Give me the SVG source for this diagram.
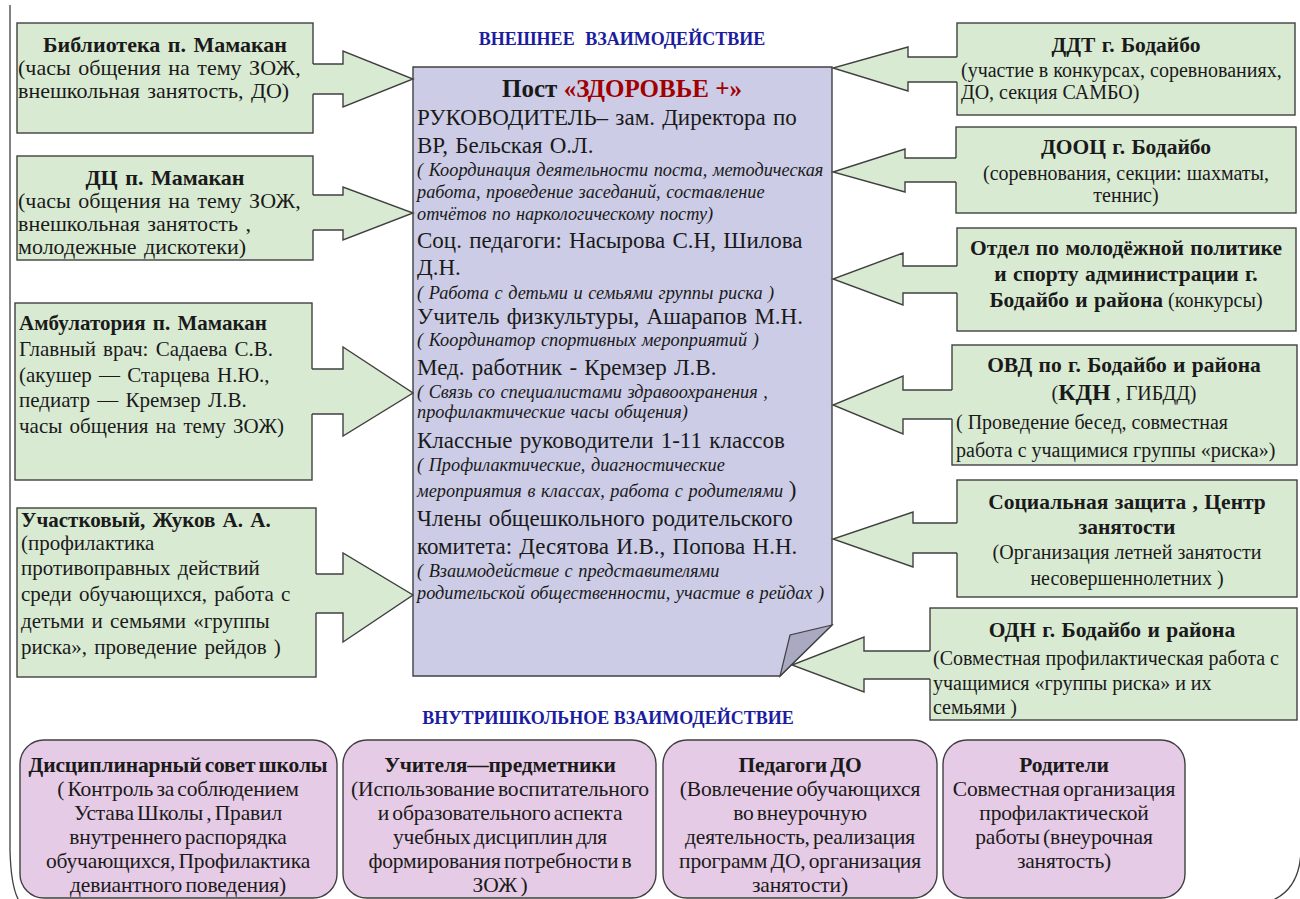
<svg xmlns="http://www.w3.org/2000/svg" width="1300" height="899" viewBox="0 0 1300 899" font-family="'Liberation Serif','Times New Roman',serif">
<style>
.g{fill:#d9ead3;stroke:#404040;stroke-width:1.4}
.p{fill:#e6cbe6;stroke:#404040;stroke-width:1.4}
.af{fill:#d9ead3;stroke:none}
.al{fill:none;stroke:#404040;stroke-width:1.4;stroke-linejoin:miter}
text{font-family:"Liberation Serif","Times New Roman",serif;fill:#1a1a1a}
.l{font-size:21px;word-spacing:2px}
.lb{font-size:22px;word-spacing:2px}
.r{font-size:20px}
.rt{font-size:21.5px;font-weight:bold;word-spacing:1px}
.b{font-weight:bold}
.c{text-anchor:middle}
.m{font-size:23px;word-spacing:1.5px}
.i{font-size:18.3px;font-style:italic;word-spacing:1px}
.bt{font-size:21.5px;letter-spacing:-0.15px;word-spacing:-2px}
.h{font-size:18px;font-weight:bold;fill:#1c1ca0}
</style>
<rect width="1300" height="899" fill="#ffffff"/>
<g id="frame" fill="none" stroke="#404040" stroke-width="1.3">
<path d="M10,5 V850 Q11,893 22,905"/>
<path d="M1301,850 Q1300,893 1265,903"/>
</g>
<text class="h c" x="622" y="45" style="word-spacing:6px">ВНЕШНЕЕ  ВЗАИМОДЕЙСТВИЕ</text>
<text class="h c" x="608" y="724">ВНУТРИШКОЛЬНОЕ ВЗАИМОДЕЙСТВИЕ</text>

<g id="post">
<polygon points="413,67 832,67 832,625 780,676 413,676" fill="#ccccE6" stroke="#404040" stroke-width="1.4"/>
<polygon points="832,625 790,635 780,676" fill="#a9a9c1" stroke="#404040" stroke-width="1.2"/>
<text x="622" y="97" class="c b" style="font-size:25px">Пост <tspan fill="#a00000">«ЗДОРОВЬЕ +»</tspan></text>
<text x="417" y="125" class="m">РУКОВОДИТЕЛЬ–  зам. Директора по</text>
<text x="417" y="153" class="m">ВР, Бельская О.Л.</text>
<text x="417" y="176" class="i">( Координация деятельности  поста, методическая</text>
<text x="417" y="198" class="i">работа, проведение заседаний, составление</text>
<text x="417" y="220" class="i">отчётов по наркологическому посту)</text>
<text x="417" y="248" class="m">Соц. педагоги: Насырова С.Н, Шилова</text>
<text x="417" y="275" class="m">Д.Н.</text>
<text x="417" y="299" class="i">( Работа с детьми и семьями  группы риска )</text>
<text x="417" y="324" class="m">Учитель физкультуры,  Ашарапов М.Н.</text>
<text x="417" y="346" class="i">( Координатор спортивных мероприятий )</text>
<text x="417" y="375" class="m">Мед. работник -  Кремзер Л.В.</text>
<text x="417" y="398" class="i">( Связь со специалистами здравоохранения ,</text>
<text x="417" y="418" class="i">профилактические часы общения)</text>
<text x="417" y="448" class="m">Классные  руководители 1-11  классов</text>
<text x="417" y="471" class="i">( Профилактические, диагностические</text>
<text x="417" y="497" class="i">мероприятия в классах, работа с родителями <tspan style="font-style:normal;font-size:23px">)</tspan></text>
<text x="417" y="526" class="m">Члены  общешкольного родительского</text>
<text x="417" y="554" class="m">комитета: Десятова И.В., Попова Н.Н.</text>
<text x="417" y="577" class="i">( Взаимодействие с представителями</text>
<text x="417" y="599" class="i">родительской общественности, участие в рейдах )</text>
</g>

<g id="library">
<rect class="g" x="17" y="23" width="296" height="110"/>
<text class="lb b c" x="165" y="52">Библиотека  п. Мамакан</text>
<text class="lb" x="18" y="75">(часы общения на тему ЗОЖ,</text>
<text class="lb" x="18" y="98">внешкольная занятость, ДО)</text>
</g>
<g id="dc">
<rect class="g" x="17" y="156" width="296" height="104"/>
<text class="lb b c" x="165" y="185">ДЦ п. Мамакан</text>
<text class="lb" x="18" y="208">(часы общения на тему ЗОЖ,</text>
<text class="lb" x="18" y="231">внешкольная занятость ,</text>
<text class="lb" x="18" y="254">молодежные дискотеки)</text>
</g>
<g id="ambulatory">
<rect class="g" x="15" y="303" width="297" height="177"/>
<text class="l b" x="19" y="330">Амбулатория   п. Мамакан</text>
<text class="l" x="19" y="356">Главный  врач: Садаева С.В.</text>
<text class="l" x="19" y="382">(акушер  — Старцева Н.Ю.,</text>
<text class="l" x="19" y="407">педиатр — Кремзер  Л.В.</text>
<text class="l" x="19" y="433">часы общения на тему  ЗОЖ)</text>
</g>
<g id="police">
<rect class="g" x="17" y="508" width="299" height="169"/>
<text class="l b" x="21" y="527">Участковый, Жуков  А. А.</text>
<text class="l" x="21" y="550">(профилактика</text>
<text class="l" x="21" y="575">противоправных  действий</text>
<text class="l" x="21" y="601">среди обучающихся,  работа с</text>
<text class="l" x="21" y="628">детьми и семьями  «группы</text>
<text class="l" x="21" y="654">риска», проведение рейдов )</text>
</g>

<g id="ddt">
<rect class="g" x="957" y="23" width="338" height="92"/>
<text class="rt c" x="1126" y="52">ДДТ  г. Бодайбо</text>
<text class="r" x="961" y="77">(участие в конкурсах, соревнованиях,</text>
<text class="r" x="961" y="99">ДО, секция САМБО)</text>
</g>
<g id="dooc">
<rect class="g" x="956" y="127" width="340" height="86"/>
<text class="rt c" x="1126" y="154">ДООЦ  г. Бодайбо</text>
<text class="r c" x="1126" y="180">(соревнования, секции: шахматы,</text>
<text class="r c" x="1126" y="202">теннис)</text>
</g>
<g id="youth">
<rect class="g" x="957" y="228" width="339" height="103"/>
<text class="rt c" x="1126" y="255">Отдел  по молодёжной политике</text>
<text class="rt c" x="1126" y="281">и  спорту  администрации  г.</text>
<text class="r c" x="1126" y="307"><tspan class="rt">Бодайбо и района</tspan> (конкурсы)</text>
</g>
<g id="ovd">
<rect class="g" x="952" y="345" width="345" height="120"/>
<text class="rt c" x="1124" y="372">ОВД  по г. Бодайбо и района</text>
<text class="r c" x="1124" y="400">(<tspan class="b" style="font-size:24px">КДН</tspan> , ГИБДД)</text>
<text class="r" x="956" y="429">( Проведение бесед, совместная</text>
<text class="r" x="956" y="457">работа с учащимися группы «риска»)</text>
</g>
<g id="social">
<rect class="g" x="957" y="480" width="340" height="117"/>
<text class="rt c" x="1127" y="509">Социальная защита  , Центр</text>
<text class="rt c" x="1127" y="534">занятости</text>
<text class="r c" x="1127" y="559">(Организация летней занятости</text>
<text class="r c" x="1127" y="585">несовершеннолетних )</text>
</g>
<g id="odn">
<rect class="g" x="930" y="608" width="367" height="112"/>
<text class="rt c" x="1112" y="637">ОДН   г. Бодайбо и района</text>
<text class="r" x="933" y="665">(Совместная профилактическая работа с</text>
<text class="r" x="933" y="690">учащимися «группы риска» и их</text>
<text class="r" x="933" y="714">семьями )</text>
</g>

<g id="discipline">
<rect class="p" x="20" y="740" width="317" height="158" rx="24"/>
<text class="bt b c" x="178" y="772">Дисциплинарный совет школы</text>
<text class="bt c" x="178" y="796">( Контроль за соблюдением</text>
<text class="bt c" x="178" y="820">Устава Школы , Правил</text>
<text class="bt c" x="178" y="844">внутреннего распорядка</text>
<text class="bt c" x="178" y="868">обучающихся,  Профилактика</text>
<text class="bt c" x="178" y="892">девиантного поведения)</text>
</g>
<g id="teachers">
<rect class="p" x="343" y="740" width="313" height="158" rx="24"/>
<text class="bt b c" x="500" y="772">Учителя—предметники</text>
<text class="bt c" x="500" y="796">(Использование воспитательного</text>
<text class="bt c" x="500" y="820">и образовательного аспекта</text>
<text class="bt c" x="500" y="844">учебных дисциплин для</text>
<text class="bt c" x="500" y="868">формирования потребности в</text>
<text class="bt c" x="500" y="892">ЗОЖ )</text>
</g>
<g id="do">
<rect class="p" x="663" y="740" width="274" height="158" rx="24"/>
<text class="bt b c" x="800" y="772">Педагоги ДО</text>
<text class="bt c" x="800" y="796">(Вовлечение обучающихся</text>
<text class="bt c" x="800" y="820">во внеурочную</text>
<text class="bt c" x="800" y="844">деятельность, реализация</text>
<text class="bt c" x="800" y="868">программ ДО, организация</text>
<text class="bt c" x="800" y="892">занятости)</text>
</g>
<g id="parents">
<rect class="p" x="943" y="740" width="242" height="158" rx="24"/>
<text class="bt b c" x="1064" y="772">Родители</text>
<text class="bt c" x="1064" y="796">Совместная организация</text>
<text class="bt c" x="1064" y="820">профилактической</text>
<text class="bt c" x="1064" y="844">работы (внеурочная</text>
<text class="bt c" x="1064" y="868">занятость)</text>
</g>

<g id="connectors">
<polygon class="af" points="311,64 343,64 343,51 413,79 343,107 343,94 311,94"/>
<polyline class="al" points="313,64 343,64 343,51 413,79 343,107 343,94 313,94"/>
<polygon class="af" points="311,195 343,195 343,187 413,213 343,240 343,230 311,230"/>
<polyline class="al" points="313,195 343,195 343,187 413,213 343,240 343,230 313,230"/>
<polygon class="af" points="310,369 343,369 343,347 413,393 343,436 343,414 310,414"/>
<polyline class="al" points="312,369 343,369 343,347 413,393 343,436 343,414 312,414"/>
<polygon class="af" points="314,574 343,574 343,553 413,595 343,642 343,613 314,613"/>
<polyline class="al" points="316,574 343,574 343,553 413,595 343,642 343,613 316,613"/>

<polygon class="af" points="959,57 908,57 908,47 833,68 908,91 908,82 959,82"/>
<polyline class="al" points="957,57 908,57 908,47 833,68 908,91 908,82 957,82"/>
<polygon class="af" points="958,158 905,158 905,149 833,172 905,192 905,182 958,182"/>
<polyline class="al" points="956,158 905,158 905,149 833,172 905,192 905,182 956,182"/>
<polygon class="af" points="959,266 903,266 903,253 833,279 903,305 903,293 959,293"/>
<polyline class="al" points="957,266 903,266 903,253 833,279 903,305 903,293 957,293"/>
<polygon class="af" points="954,390 903,390 903,376 833,405 903,434 903,419 954,419"/>
<polyline class="al" points="952,390 903,390 903,376 833,405 903,434 903,419 952,419"/>
<polygon class="af" points="959,523 913,523 913,512 833,539 913,567 913,553 959,553"/>
<polyline class="al" points="957,523 913,523 913,512 833,539 913,567 913,553 957,553"/>
<polygon class="af" points="932,651 864,651 864,637 792,665 864,692 864,679 932,679"/>
<polyline class="al" points="930,651 864,651 864,637 792,665 864,692 864,679 930,679"/>
</g>
</svg>
